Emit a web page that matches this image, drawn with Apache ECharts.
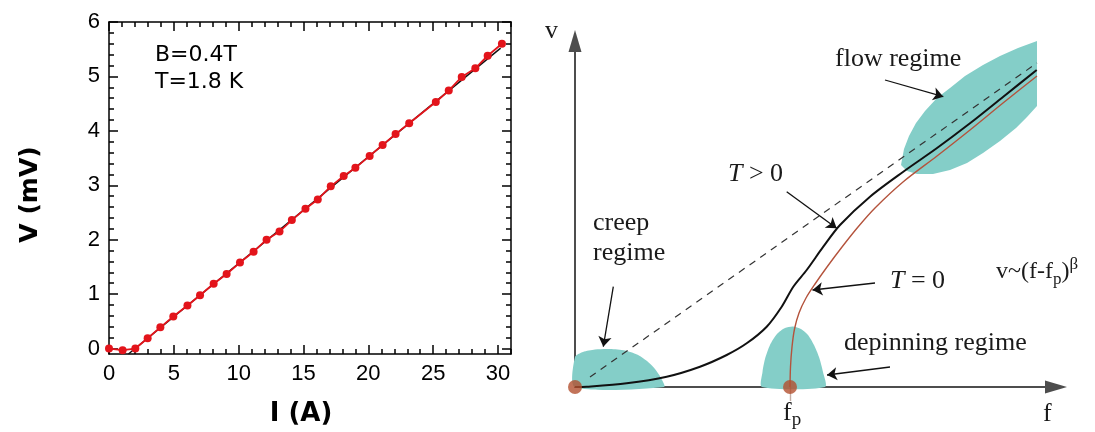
<!DOCTYPE html>
<html><head><meta charset="utf-8">
<script src="https://cdn.jsdelivr.net/npm/echarts@6/dist/echarts.min.js"></script>
<style>html,body{margin:0;padding:0;background:#fff}#c{width:1095px;height:432px}</style>
</head><body><div id="c"></div>
<script>
// ---------- Left panel: V-I measurement ----------
const currentA = [0, 1.05, 2.03, 2.98, 3.96, 4.96, 6.05, 7.02, 8.07, 9.07, 10.1, 11.15, 12.15, 13.15, 14.1, 15.15, 16.1, 17.1, 18.1, 19.0, 20.1, 21.1, 22.1, 23.15, 25.2, 26.2, 27.2, 28.25, 29.2, 30.3];
const voltageMV = [0, -0.03, 0.0, 0.19, 0.39, 0.59, 0.79, 0.98, 1.19, 1.37, 1.58, 1.78, 2.0, 2.15, 2.36, 2.57, 2.74, 2.98, 3.17, 3.32, 3.54, 3.74, 3.94, 4.14, 4.53, 4.74, 4.99, 5.15, 5.38, 5.60];
const fitCurrentA = [1.5, 30.2];
const fitVoltageMV = [-0.1, 5.52];
const xMajorTicks = [0, 5, 10, 15, 20, 25, 30];
const xMinorTicks = [0,1,2,3,4,5,6,7,8,9,10,11,12,13,14,15,16,17,18,19,20,21,22,23,24,25,26,27,28,29,30,31];
const yMajorTicks = [0, 1, 2, 3, 4, 5, 6];
const yMinorTicks = [0,0.2,0.4,0.6,0.8,1,1.2,1.4,1.6,1.8,2,2.2,2.4,2.6,2.8,3,3.2,3.4,3.6,3.8,4,4.2,4.4,4.6,4.8,5,5.2,5.4,5.6,5.8,6];
const noteLines = ['B=0.4T', 'T=1.8 K'];

// ---------- Right panel: schematic v(f) ----------
const curveTpos = [[0,0],[11.7,0.3],[51.7,3.7],[91.7,10.3],[125,20.3],[151.7,32],[171.7,43.7],[191.7,60.3],[206.7,80.3],[218.3,100.3],[231.7,117],[248.3,140.3],[265,162],[295,190.3],[328.3,215.3],[361.7,238.7],[395,263.7],[428.3,290.3],[461.7,317]];
const curveTzero = [[215,0],[215.5,20],[217,40],[219.5,58],[224,74],[231,89],[240,103],[252,120],[267,140],[283,160],[300,179],[328,205],[362,231],[395,257],[428,284],[462,311]];
const curveLinear = [[15,10],[462,324]];
const creepBlob = [[0,0],[0,30],[8,35],[20,37.5],[35,38],[50,36.5],[62,32.5],[72,26],[80,18],[86,9],[89,0]];
const depinBlob = [[187,0],[187.5,15],[190,28],[195,42],[202,53],[210,59],[218,60.5],[226,58],[233,52],[239,42],[244,30],[248,15],[250,0]];
const flowBlob = [[326,222],[329,238],[334,251],[341,264],[350,276],[362,289],[375,299],[390,311],[408,322],[425,331],[443,339],[462,346],[462,281],[452,270],[441,259],[425,246],[408,234],[392,224],[375,217],[358,213],[342,213],[332,216]];
const pinPoints = [[0,0],[215,0]];
const fpTick = [[215,0],[215,-14]];
const pointerArrows = [
  [[310,307],[368.3,290.3]],
  [[211.7,195.3],[261.7,158.7]],
  [[38.3,100.3],[28.3,40.3]],
  [[300,104],[237.5,97]],
  [[315,20],[252,12]]
];

const chart = echarts.init(document.getElementById('c'), null, {renderer: 'canvas'});
const sans = 'Liberation Sans';
const serif = 'Liberation Serif';
const black = '#000';

function pairs(xs, ys) { return xs.map((x, i) => [x, ys[i]]); }

function frameX(pos, ticks, len, withLine, labels) {
  return {
    type: 'value', gridIndex: 0, position: pos, min: 0, max: 31,
    axisLine: {show: withLine, onZero: false, lineStyle: {color: black, width: 1.5}},
    axisTick: {show: true, inside: true, length: len, customValues: ticks, lineStyle: {color: black, width: 1.5}},
    axisLabel: labels ? {show: true, customValues: xMajorTicks, margin: 9, fontSize: 22, fontFamily: sans, color: black} : {show: false},
    splitLine: {show: false}
  };
}
function frameY(pos, ticks, len, withLine, labels) {
  return {
    type: 'value', gridIndex: 0, position: pos, min: -0.1, max: 6,
    axisLine: {show: withLine, onZero: false, lineStyle: {color: black, width: 1.5}},
    axisTick: {show: true, inside: true, length: len, customValues: ticks, lineStyle: {color: black, width: 1.5}},
    axisLabel: labels ? {show: true, customValues: yMajorTicks, margin: 9, fontSize: 22, fontFamily: sans, color: black} : {show: false},
    splitLine: {show: false}
  };
}

const xMain = frameX('bottom', xMajorTicks, 9, true, true);
xMain.name = 'I (A)';
xMain.nameLocation = 'middle';
xMain.nameGap = 47;
xMain.nameTextStyle = {fontSize: 26, fontWeight: 'bold', fontFamily: 'DejaVu Sans', color: black, padding: [0, 18, 0, 0]};
const yMain = frameY('left', yMajorTicks, 9, true, true);
yMain.name = 'V (mV)';
yMain.nameLocation = 'middle';
yMain.nameRotate = 90;
yMain.nameGap = 66;
yMain.nameTextStyle = {fontSize: 25, fontWeight: 'bold', fontFamily: 'DejaVu Sans', color: black, padding: [0, 13, 0, 0]};

const axisGray = '#4d4d4d';
function blob(points, smooth) {
  return {
    type: 'custom', coordinateSystem: 'cartesian2d', xAxisIndex: 4, yAxisIndex: 4,
    data: [points[0]], silent: true, z: 1, clip: false,
    renderItem: function (params, api) {
      return {type: 'polygon', shape: {points: points.map(p => api.coord(p)), smooth: smooth}, style: {fill: '#84cec8'}};
    }
  };
}

function txt(x, y, text, size, extra) {
  return {type: 'text', x: x, y: y, style: Object.assign({
    text: text, fontSize: size, fontFamily: serif, fill: '#1a1a1a', align: 'left', verticalAlign: 'middle'
  }, extra || {})};
}

const option = {
  animation: false,
  backgroundColor: '#fff',
  grid: [
    {left: 109, top: 22, width: 402, height: 335},
    {left: 575, top: 41, width: 481, height: 346}
  ],
  xAxis: [
    xMain,
    frameX('bottom', xMinorTicks, 5, false, false),
    frameX('top', xMajorTicks, 9, true, false),
    frameX('top', xMinorTicks, 5, false, false),
    {type: 'value', gridIndex: 1, min: 0, max: 481,
     axisLine: {show: true, onZero: false, symbol: ['none', 'triangle'], symbolSize: [13, 22], lineStyle: {color: axisGray, width: 2}},
     axisTick: {show: false}, axisLabel: {show: false}, splitLine: {show: false}}
  ],
  yAxis: [
    yMain,
    frameY('left', yMinorTicks, 5, false, false),
    frameY('right', yMajorTicks, 9, true, false),
    frameY('right', yMinorTicks, 5, false, false),
    {type: 'value', gridIndex: 1, min: 0, max: 346,
     axisLine: {show: true, onZero: false, symbol: ['none', 'triangle'], symbolSize: [13, 22], lineStyle: {color: axisGray, width: 2}},
     axisTick: {show: false}, axisLabel: {show: false}, splitLine: {show: false}}
  ],
  series: [
    {type: 'line', xAxisIndex: 0, yAxisIndex: 0, data: pairs(fitCurrentA, fitVoltageMV), showSymbol: false,
     lineStyle: {color: '#111', width: 1.5}, z: 2, silent: true},
    {type: 'line', xAxisIndex: 0, yAxisIndex: 0, data: pairs(currentA, voltageMV), symbol: 'circle', symbolSize: 8,
     itemStyle: {color: '#e3141b'}, lineStyle: {color: '#e3141b', width: 1.8}, z: 3, clip: false, silent: true},

    blob(creepBlob, 0.25), blob(depinBlob, 0.25), blob(flowBlob, 0),
    {type: 'line', xAxisIndex: 4, yAxisIndex: 4, data: curveLinear, showSymbol: false, silent: true, z: 3,
     lineStyle: {color: '#333', width: 1.2, type: [7, 6]}},
    {type: 'line', xAxisIndex: 4, yAxisIndex: 4, data: curveTzero, showSymbol: false, smooth: 0.3, silent: true, z: 3,
     lineStyle: {color: '#b4533c', width: 1.4}},
    {type: 'line', xAxisIndex: 4, yAxisIndex: 4, data: curveTpos, showSymbol: false, smooth: 0.3, silent: true, z: 4,
     lineStyle: {color: '#111', width: 2}},
    {type: 'lines', coordinateSystem: 'cartesian2d', xAxisIndex: 4, yAxisIndex: 4, clip: false, silent: true, z: 4,
     data: [{coords: fpTick}], lineStyle: {color: '#8a5a4a', width: 1.4}},
    {type: 'lines', coordinateSystem: 'cartesian2d', xAxisIndex: 4, yAxisIndex: 4, clip: false, silent: true, z: 5,
     symbol: ['none', 'arrow'], symbolSize: 10,
     data: pointerArrows.map(c => ({coords: c})), lineStyle: {color: '#111', width: 1.3, opacity: 1}},
    {type: 'scatter', xAxisIndex: 4, yAxisIndex: 4, data: pinPoints, symbolSize: 14, clip: false, silent: true, z: 6,
     itemStyle: {color: '#b3502f'}}
  ],
  graphic: [
    {type: 'text', x: 155, y: 55, style: {text: noteLines[0], fontSize: 22, fontFamily: 'DejaVu Sans', fill: '#000', align: 'left', verticalAlign: 'middle'}},
    {type: 'text', x: 155, y: 82, style: {text: noteLines[1], fontSize: 22, fontFamily: 'DejaVu Sans', fill: '#000', align: 'left', verticalAlign: 'middle'}},
    txt(545, 31, 'v', 26),
    txt(1043, 414, 'f', 26),
    txt(783, 413, '{a|f}{b|p}', 26, {rich: {a: {fontSize: 26, fontFamily: serif, lineHeight: 34, verticalAlign: 'middle', fill: '#1a1a1a'}, b: {fontSize: 19, fontFamily: serif, lineHeight: 19, verticalAlign: 'bottom', fill: '#1a1a1a'}}}),
    txt(835, 59.5, 'flow regime', 26),
    txt(728, 174.5, '{i|T}{n| > 0}', 26, {rich: {i: {fontSize: 26, fontFamily: serif, fontStyle: 'italic', fill: '#1a1a1a'}, n: {fontSize: 26, fontFamily: serif, fill: '#1a1a1a'}}}),
    txt(593, 223.5, 'creep', 26),
    txt(593, 253.5, 'regime', 26),
    txt(890, 281.5, '{i|T}{n| = 0}', 26, {rich: {i: {fontSize: 26, fontFamily: serif, fontStyle: 'italic', fill: '#1a1a1a'}, n: {fontSize: 26, fontFamily: serif, fill: '#1a1a1a'}}}),
    txt(996, 272, '{a|v~(f-f}{b|p}{a|)}{c|β}', 24, {rich: {
      a: {fontSize: 24, fontFamily: serif, lineHeight: 32, verticalAlign: 'middle', fill: '#1a1a1a'},
      b: {fontSize: 17, fontFamily: serif, lineHeight: 17, verticalAlign: 'bottom', fill: '#1a1a1a'},
      c: {fontSize: 17, fontFamily: serif, lineHeight: 17, verticalAlign: 'top', fill: '#1a1a1a'}}}),
    txt(844, 343.5, 'depinning regime', 26)
  ]
};
chart.setOption(option);
</script>
</body></html>
